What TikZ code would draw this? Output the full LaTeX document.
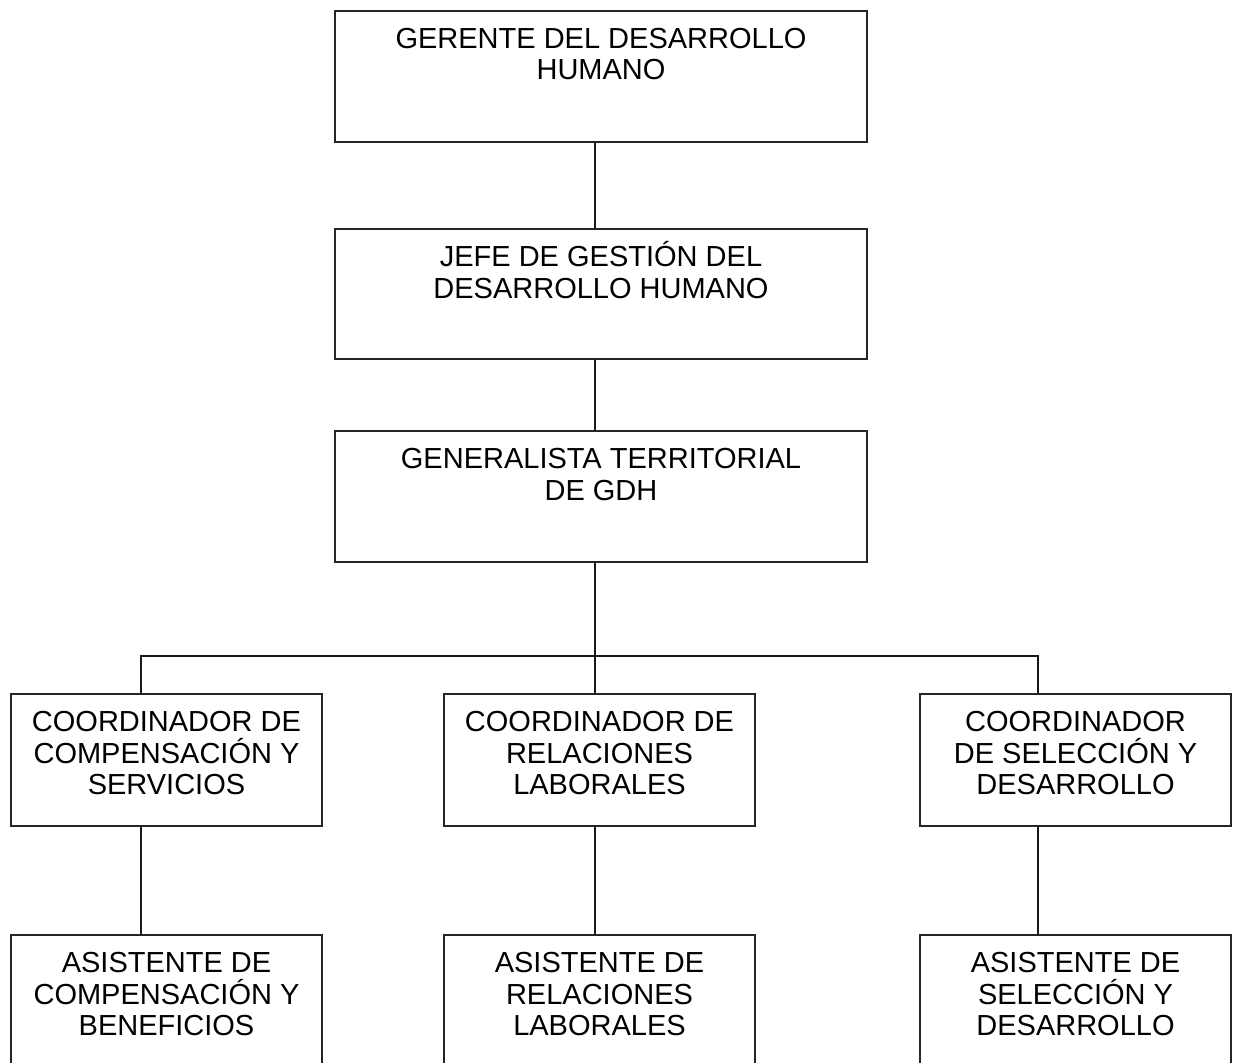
\documentclass[tikz,border=0pt]{standalone}
\usepackage{fontspec}
\setmainfont{Liberation Sans}
\newcommand{\boxtext}[3]{%
  \parbox[c][#1pt][t]{#2pt}{\centering\fontsize{29}{31.5}\selectfont
    \rule{0pt}{37.5pt}#3}}
\begin{document}
\begin{tikzpicture}[x=1pt,y=-1pt,
  unit/.style={draw=black!85, line width=1.3pt, inner sep=0pt, outer sep=0pt,
               anchor=north west},
  link/.style={draw=black!90, line width=1.3pt}]
  \useasboundingbox (0,0) rectangle (1238,1062);
  \clip (0,0) rectangle (1238,1062);

  % management chain
  \node[unit] (ger) at (335,11)  {\boxtext{131}{532}{GERENTE DEL DESARROLLO\\HUMANO}};
  \node[unit] (jef) at (335,229) {\boxtext{130}{532}{JEFE DE GESTIÓN DEL\\DESARROLLO HUMANO}};
  \node[unit] (gen) at (335,431) {\boxtext{131}{532}{GENERALISTA TERRITORIAL\\DE GDH}};

  % coordinators
  \node[unit] (ccs) at (11,694)  {\boxtext{132}{311}{COORDINADOR DE\\COMPENSACIÓN Y\\SERVICIOS}};
  \node[unit] (crl) at (444,694) {\boxtext{132}{311}{COORDINADOR DE\\RELACIONES\\LABORALES}};
  \node[unit] (csd) at (920,694) {\boxtext{132}{311}{COORDINADOR\\DE SELECCIÓN Y\\DESARROLLO}};

  % assistants (boxes run past the lower edge)
  \node[unit] (acb) at (11,935)  {\boxtext{150}{311}{ASISTENTE DE\\COMPENSACIÓN Y\\BENEFICIOS}};
  \node[unit] (arl) at (444,935) {\boxtext{150}{311}{ASISTENTE DE\\RELACIONES\\LABORALES}};
  \node[unit] (asd) at (920,935) {\boxtext{150}{311}{ASISTENTE DE\\SELECCIÓN Y\\DESARROLLO}};

  % connector guides
  \coordinate (spine) at (595,0);
  \coordinate (colL) at (141,0);
  \coordinate (colR) at (1038,0);
  \coordinate (bus) at (0,656);

  \draw[link] (spine |- ger.south) -- (spine |- jef.north);
  \draw[link] (spine |- jef.south) -- (spine |- gen.north);
  \draw[link] (spine |- gen.south) -- (spine |- crl.north);
  \draw[link] (colL |- ccs.north) -- (colL |- bus) -- (colR |- bus) -- (colR |- csd.north);

  \draw[link] (colL |- ccs.south) -- (colL |- acb.north);
  \draw[link] (spine |- crl.south) -- (spine |- arl.north);
  \draw[link] (colR |- csd.south) -- (colR |- asd.north);
\end{tikzpicture}
\end{document}
